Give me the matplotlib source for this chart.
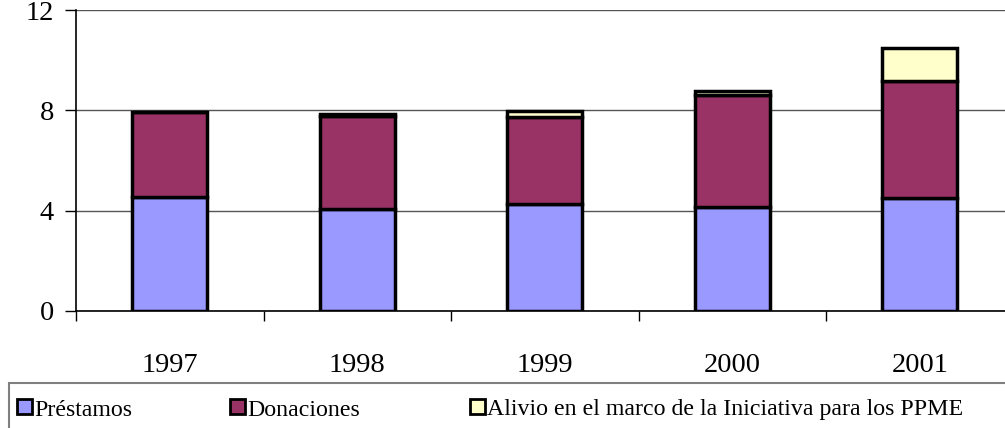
import numpy as np
import matplotlib.pyplot as plt
from matplotlib.patches import Rectangle

plt.rcParams['font.family'] = ['Liberation Serif', 'DejaVu Serif']

# Datos
anios = ['1997', '1998', '1999', '2000', '2001']
prestamos = [4.54, 4.06, 4.26, 4.14, 4.50]
donaciones = [3.39, 3.71, 3.47, 4.46, 4.66]
alivio = [0.02, 0.10, 0.24, 0.16, 1.32]
series = ['Préstamos', 'Donaciones', 'Alivio en el marco de la Iniciativa para los PPME']
colores = ['#9999FF', '#993366', '#FFFFCC']

W, H = 1005, 428
fig = plt.figure(figsize=(W / 100, H / 100), dpi=100)
ax = fig.add_axes([76 / W, 1 - 311 / H, (1013.5 - 76) / W, 301 / H])

x = np.arange(len(anios))
base = np.zeros(len(anios))
for vals, col in zip([prestamos, donaciones, alivio], colores):
    ax.bar(x, vals, 0.4, bottom=base, color=col, edgecolor='black', linewidth=2.5, zorder=3)
    base = base + np.array(vals)

ax.set_xlim(-0.5, 4.5)
ax.set_ylim(0, 12)
ax.set_yticks([0, 4, 8, 12])
ax.yaxis.grid(True, color='#555555', linewidth=1, zorder=0)
ax.set_axisbelow(True)
ax.set_xticks(x)
ax.set_xticklabels(anios)
ax.set_xticks(np.arange(-0.5, 5, 1), minor=True)
ax.tick_params(axis='x', which='major', length=0, pad=30, labelsize=20.5)
ax.tick_params(axis='x', which='minor', length=7, width=1, direction='out')
ax.tick_params(axis='y', length=8, width=1, direction='out', pad=8, labelsize=20.5)
for s in ['top', 'right']:
    ax.spines[s].set_visible(False)
ax.spines['left'].set_linewidth(1.2)
ax.spines['bottom'].set_linewidth(1.2)

# Leyenda
fig.patches.append(Rectangle((9 / W, -0.1), 1.1, (H - 383) / H + 0.1, transform=fig.transFigure,
                             facecolor='none', edgecolor='#808080', linewidth=1.5))
xs_leg = [17, 230, 470]
for xl, nom, col in zip(xs_leg, series, colores):
    fig.patches.append(Rectangle((xl / W, 1 - 414 / H), 15 / W, 15 / H, transform=fig.transFigure,
                                 facecolor=col, edgecolor='black', linewidth=2))
    fig.text((xl + 17) / W, 1 - 410 / H, nom, fontsize=17.2, va='center', ha='left')

fig.savefig('out.png', dpi=100)
